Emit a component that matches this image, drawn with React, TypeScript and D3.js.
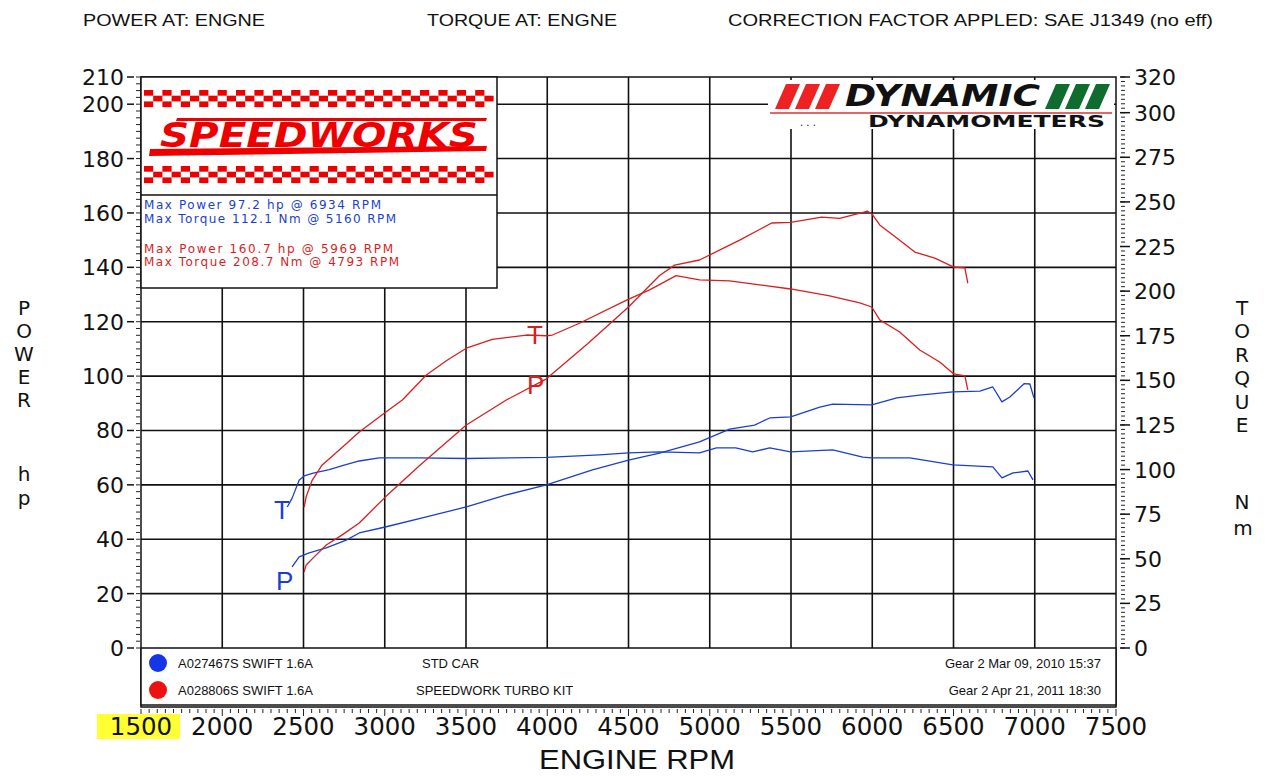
import React from "react";
import * as d3 from "d3";

// run A027467S - stock car (blue)
const stockTorqueRpm = [2400, 2430, 2473, 2504, 2560, 2658, 2750, 2843, 2966, 3213, 3502, 3995, 4321, 4500, 4691, 4937, 5041, 5160, 5264, 5369, 5498, 5757, 5942, 5997, 6231, 6496, 6742, 6798, 6866, 6958, 6989];
const stockTorqueNm = [79, 84, 94, 96.4, 98, 100, 102.5, 104.8, 106.5, 106.5, 106.2, 106.8, 108.2, 109.3, 109.9, 109.3, 112.1, 112.1, 109.9, 112.1, 109.9, 111, 107, 106.5, 106.5, 102.6, 101.5, 95.3, 98.1, 99.2, 94.2];
const stockPowerRpm = [2430, 2473, 2535, 2640, 2763, 2843, 3003, 3256, 3502, 3748, 3995, 4278, 4500, 4691, 4937, 5122, 5276, 5369, 5498, 5677, 5757, 5997, 6151, 6292, 6496, 6662, 6742, 6798, 6847, 6934, 6970, 6995];
const stockPowerHp = [29.8, 33.5, 35, 36.8, 39.7, 42.3, 44.5, 48.2, 51.9, 56.3, 60, 65.5, 69.1, 71.7, 75.8, 80.5, 82, 84.6, 85, 88.6, 89.7, 89.4, 92, 93, 94.2, 94.5, 96, 90.5, 92.3, 97.2, 97.1, 92];

// run A028806S - turbo kit (red)
const turboPowerRpm = [2504, 2516, 2566, 2640, 2738, 2843, 3003, 3213, 3502, 3748, 3995, 4250, 4500, 4691, 4784, 4937, 5184, 5381, 5498, 5689, 5800, 5948, 5969, 6000, 6046, 6169, 6262, 6385, 6502, 6570, 6588];
const turboPowerHp = [28, 30.5, 33.5, 37.9, 41.6, 46, 55.5, 67, 82, 91.2, 99, 112, 125.4, 137, 140.8, 142.7, 150, 156.3, 156.5, 158.5, 158, 160.3, 160.7, 159.5, 155.6, 150, 145.6, 143.4, 140.1, 139.8, 134.2];
const turboTorqueRpm = [2504, 2516, 2553, 2615, 2720, 2843, 3003, 3108, 3256, 3379, 3502, 3662, 3872, 3995, 4032, 4198, 4488, 4630, 4793, 4937, 5122, 5307, 5498, 5738, 5923, 5997, 6046, 6169, 6292, 6415, 6502, 6570, 6588];
const turboTorqueNm = [79, 84.6, 94, 102.6, 111, 121, 132, 139, 153, 161, 168, 173, 175.4, 175, 175.4, 182, 195, 200.7, 208.7, 206.3, 205.7, 203.5, 201.2, 197.3, 193.4, 191.1, 183.9, 177.1, 167, 160.3, 153.6, 152.5, 144.6];

const rpmTicks = [1500, 2000, 2500, 3000, 3500, 4000, 4500, 5000, 5500, 6000, 6500, 7000, 7500];
const hpTicks = [0, 20, 40, 60, 80, 100, 120, 140, 160, 180, 200, 210];
const nmTicks = [0, 25, 50, 75, 100, 125, 150, 175, 200, 225, 250, 275, 300, 320];

const headers = ["POWER AT: ENGNE", "TORQUE AT: ENGNE", "CORRECTION FACTOR APPLED: SAE J1349 (no eff)"];
const statsStock = ["Max Power 97.2 hp @ 6934 RPM", "Max Torque 112.1 Nm @ 5160 RPM"];
const statsTurbo = ["Max Power 160.7 hp @ 5969 RPM", "Max Torque 208.7 Nm @ 4793 RPM"];
const runs = [
  { id: "A027467S  SWIFT 1.6A", desc: "STD CAR", date: "Gear 2 Mar 09, 2010 15:37", color: "#1536e8" },
  { id: "A028806S SWIFT 1.6A", desc: "SPEEDWORK TURBO KIT", date: "Gear 2 Apr 21, 2011 18:30", color: "#ee1111" },
];

const BLUE = "#1a3fd0";
const RED = "#d81e1e";
const plotL = 141, plotR = 1116, plotT = 77, zeroY = 648, axisY = 707;

const x = d3.scaleLinear().domain([1500, 7500]).range([plotL, plotR]);
const yHp = d3.scaleLinear().domain([0, 210]).range([zeroY, plotT]);
const yNm = d3.scaleLinear().domain([0, 320]).range([zeroY, plotT]);

const zip = (a: number[], b: number[]) => a.map((v, i) => [v, b[i]] as [number, number]);
const hpLine = d3.line<[number, number]>().x((d) => x(d[0])).y((d) => yHp(d[1]));
const nmLine = d3.line<[number, number]>().x((d) => x(d[0])).y((d) => yNm(d[1]));

const font = "'DejaVu Sans', Verdana, sans-serif";
const arial = "'Liberation Sans', Arial, sans-serif";

function Checker({ y0 }: { y0: number }) {
  const cells = [];
  const w = 9.2, h = 5.7;
  for (let i = 0; i < 38; i++) {
    const cx = 144 + i * w;
    if (cx + w > 495) break;
    for (let r = 0; r < 3; r++) {
      if ((i + r) % 2 === 0) cells.push(<rect key={i + "-" + r} x={cx} y={y0 + r * h} width={w} height={h} fill="#ee0000" />);
    }
  }
  return <g>{cells}</g>;
}

export default function App() {
  const minorHp = d3.range(0, 210.01, 2.5);
  const minorNm = d3.range(0, 320.01, 2.5);
  const minorRpm = d3.range(1500, 7501, 50);
  const statLens = [237, 252, 249, 255];
  return (
    <svg width={1269} height={776} style={{ position: "absolute", left: 0, top: 0, background: "#fff" }}>
      {/* header */}
      <g fontFamily={arial} fontSize={16} fill="#111">
        <text x={83} y={26} textLength={182} lengthAdjust="spacingAndGlyphs">{headers[0]}</text>
        <text x={427} y={26} textLength={190} lengthAdjust="spacingAndGlyphs">{headers[1]}</text>
        <text x={728} y={26} textLength={485} lengthAdjust="spacingAndGlyphs">{headers[2]}</text>
      </g>

      {/* grid */}
      <g stroke="#111" strokeWidth={1.6}>
        {rpmTicks.slice(1, -1).map((r) => (
          <line key={r} x1={x(r)} x2={x(r)} y1={plotT} y2={zeroY} />
        ))}
        {hpTicks.slice(1, -1).map((v) => (
          <line key={v} x1={plotL} x2={plotR} y1={yHp(v)} y2={yHp(v)} />
        ))}
      </g>
      <rect x={plotL} y={plotT} width={plotR - plotL} height={axisY - plotT} fill="none" stroke="#111" strokeWidth={1.5} />

      {/* minor ticks */}
      <g stroke="#222" strokeWidth={1}>
        {minorHp.map((v) => (
          <line key={v} x1={plotL - 5} x2={plotL - 1} y1={yHp(v)} y2={yHp(v)} />
        ))}
        {minorNm.map((v) => (
          <line key={v} x1={plotR + 5} x2={plotR + 9} y1={yNm(v)} y2={yNm(v)} />
        ))}
        {minorRpm.map((r) => (
          <line key={r} x1={x(r)} x2={x(r)} y1={axisY + 2} y2={axisY + (r % 500 === 0 ? 9 : 6)} />
        ))}
      </g>
      <g fontFamily={font} fontSize={22} fill="#111">
        {hpTicks.map((v) => (
          <g key={v}>
            <line x1={127} x2={134} y1={yHp(v)} y2={yHp(v)} stroke="#111" strokeWidth={1.5} />
            <text x={124} y={yHp(v) + 8} textAnchor="end">{v}</text>
          </g>
        ))}
        {nmTicks.map((v) => (
          <g key={v}>
            <line x1={1120} x2={1130} y1={yNm(v)} y2={yNm(v)} stroke="#111" strokeWidth={1.5} />
            <text x={1134} y={yNm(v) + 8}>{v}</text>
          </g>
        ))}
      </g>

      {/* x labels */}
      <rect x={97} y={714} width={83} height={25} fill="#ffff33" />
      <g fontFamily={font} fontSize={24.5} fill="#111" textAnchor="middle">
        {rpmTicks.map((r) => (
          <text key={r} x={x(r)} y={735}>{r}</text>
        ))}
        <text x={637} y={769} fontSize={27} fontFamily={arial} textLength={196} lengthAdjust="spacingAndGlyphs">ENGINE RPM</text>
      </g>

      {/* axis titles */}
      <g fontFamily={font} fontSize={20} fill="#111" textAnchor="middle">
        {["P", "O", "W", "E", "R"].map((c, i) => (
          <text key={c} x={24} y={315 + i * 23}>{c}</text>
        ))}
        <text x={24} y={481}>h</text>
        <text x={24} y={505}>p</text>
        {["T", "O", "R", "Q", "U", "E"].map((c, i) => (
          <text key={c} x={1242} y={315 + i * 23.4}>{c}</text>
        ))}
        <text x={1242} y={509}>N</text>
        <text x={1243} y={535}>m</text>
      </g>

      {/* curves */}
      <g fill="none" strokeWidth={1.3} strokeLinejoin="round">
        <path d={nmLine(zip(stockTorqueRpm, stockTorqueNm)) || ""} stroke={BLUE} />
        <path d={hpLine(zip(stockPowerRpm, stockPowerHp)) || ""} stroke={BLUE} />
        <path d={nmLine(zip(turboTorqueRpm, turboTorqueNm)) || ""} stroke={RED} />
        <path d={hpLine(zip(turboPowerRpm, turboPowerHp)) || ""} stroke={RED} />
      </g>
      <g fontFamily={arial} fontSize={26}>
        <text x={274} y={519} fill={BLUE}>T</text>
        <text x={276} y={590} fill={BLUE}>P</text>
        <text x={527} y={344} fill={RED}>T</text>
        <text x={527} y={394} fill={RED}>P</text>
      </g>

      {/* speedworks box */}
      <rect x={plotL} y={plotT} width={356} height={211} fill="#fff" stroke="#111" strokeWidth={1.5} />
      <line x1={plotL} x2={497} y1={195} y2={195} stroke="#111" strokeWidth={1.5} />
      <Checker y0={90} />
      <Checker y0={166} />
      <polygon points="177,118 487,118 486,121 176,121" fill="#ee0000" />
      <text x={160} y={147} fontFamily={font} fontWeight="bold" fontStyle="italic" fontSize={34} fill="#ee0000" textLength={318} lengthAdjust="spacingAndGlyphs">SPEEDWORKS</text>
      <polygon points="150,149 487,146 486,151 149,156" fill="#ee0000" />
      <g fontFamily={font} fontSize={12}>
        {[...statsStock, ...statsTurbo].map((s, i) => (
          <text key={s} x={144} y={[209, 223, 253, 266][i]} fill={i < 2 ? BLUE : RED} textLength={statLens[i]} lengthAdjust="spacing">{s}</text>
        ))}
      </g>

      {/* dynamic dynamometers logo */}
      <rect x={768} y={80} width={346} height={49} fill="#fff" />
      {[0, 1, 2].map((i) => (
        <polygon key={"r" + i} points={`${786 + i * 20},84 ${800 + i * 20},84 ${789 + i * 20},109 ${775 + i * 20},109`} fill="#ee2222" />
      ))}
      <text x={845} y={106} fontFamily={font} fontWeight="bold" fontStyle="italic" fontSize={30} fill="#111" textLength={195} lengthAdjust="spacingAndGlyphs">DYNAMIC</text>
      {[0, 1, 2].map((i) => (
        <polygon key={"g" + i} points={`${1056 + i * 20},84 ${1070 + i * 20},84 ${1059 + i * 20},109 ${1045 + i * 20},109`} fill="#0f6b2e" />
      ))}
      <line x1={770} x2={1112} y1={113} y2={113} stroke="#dd3333" strokeWidth={1.5} />
      <text x={868} y={127} fontFamily={font} fontWeight="bold" fontSize={15} fill="#111" textLength={237} lengthAdjust="spacingAndGlyphs">DYNAMOMETERS</text>
      <text x={800} y={126} fontFamily={font} fontSize={10} fill="#111">.    .    .</text>

      {/* run legend */}
      <rect x={plotL} y={zeroY} width={plotR - plotL} height={57} fill="#fff" stroke="#111" strokeWidth={1.5} />
      <g fontFamily={arial} fontSize={13} fill="#111">
        {runs.map((r, i) => (
          <g key={r.id}>
            <circle cx={158} cy={663 + i * 27} r={9} fill={r.color} />
            <text x={178} y={668 + i * 27}>{r.id}</text>
            <text x={i === 0 ? 422 : 416} y={668 + i * 27}>{r.desc}</text>
            <text x={1101} y={668 + i * 27} textAnchor="end">{r.date}</text>
          </g>
        ))}
      </g>
    </svg>
  );
}
